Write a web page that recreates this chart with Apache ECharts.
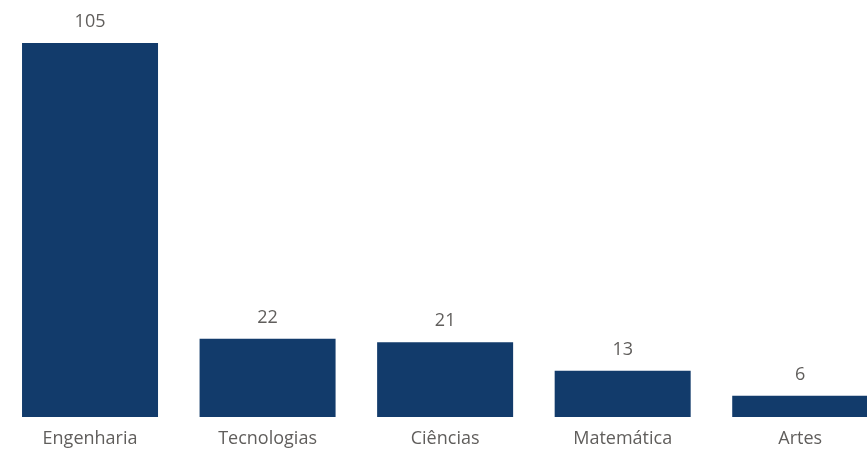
<!DOCTYPE html>
<html><head><meta charset="utf-8">
<script src="https://cdn.jsdelivr.net/npm/echarts@6/dist/echarts.min.js"></script>
<style>html,body{margin:0;padding:0;background:#fff;overflow:hidden}#c{width:889px;height:452px}</style>
</head><body><div id="c"></div>
<script>
const categories = ["Engenharia", "Tecnologias", "Ciências", "Matemática", "Artes"];
const values = [105, 22, 21, 13, 6];

const chart = echarts.init(document.getElementById('c'), null, {renderer: 'canvas'});
chart.setOption({
  animation: false,
  grid: {left: 1.25, right: 0, top: 43, bottom: 35, containLabel: false},
  xAxis: {
    type: 'category', data: categories,
    axisLine: {show: false}, axisTick: {show: false},
    axisLabel: {color: '#605e5c', fontSize: 18, fontFamily: 'Open Sans', margin: 13, interval: 0}
  },
  yAxis: {type: 'value', min: 0, max: 105, show: false, splitLine: {show: false}},
  series: [{
    type: 'bar', data: values, barWidth: 136,
    itemStyle: {color: '#123b6b'},
    label: {show: true, position: 'top', distance: 12, color: '#605e5c', fontSize: 18, fontFamily: 'Open Sans'}
  }]
});
</script></body></html>
